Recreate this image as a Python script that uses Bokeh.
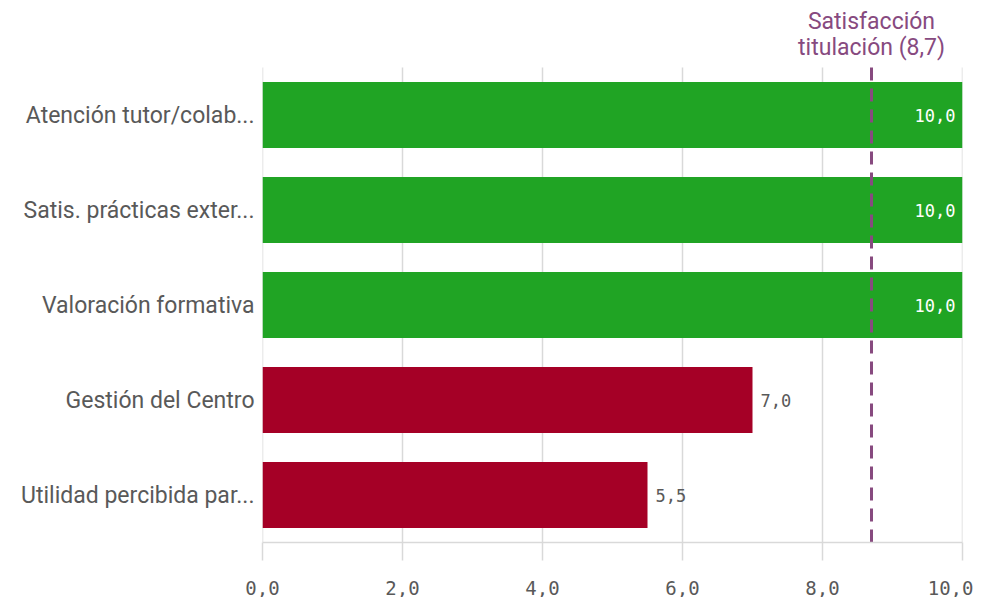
from bokeh.plotting import figure
from bokeh.models import ColumnDataSource, CustomJSTickFormatter, FixedTicker, Range1d
from bokeh.core.properties import value
from bokeh.embed import file_html
from bokeh.resources import INLINE

categories = ["Atención tutor/colab...", "Satis. prácticas exter...", "Valoración formativa",
              "Gestión del Centro", "Utilidad percibida par..."]
values = [10.0, 10.0, 10.0, 7.0, 5.5]
reference = 8.7
reference_lines = ["Satisfacción", "titulación (8,7)"]
x_ticks = [0, 2, 4, 6, 8, 10]

GREEN = "#20a424"
RED = "#a50026"
PURPLE = "#874a7f"
GRAY = "#595959"
GRID = "#d9d9d9"

n = len(categories)
band_px = 95
top_px = 62  # space above the bars for the reference annotation


def fmt(v):
    return f"{v:.1f}".replace(".", ",")


ypos = [n - 1 - i for i in range(n)]
colors = [GREEN if v >= reference else RED for v in values]
src = ColumnDataSource(dict(y=ypos, val=values, color=colors))
inside = [i for i, v in enumerate(values) if v >= 9.5]
outside = [i for i, v in enumerate(values) if v < 9.5]
src_in = ColumnDataSource(dict(y=[ypos[i] for i in inside], val=[values[i] for i in inside],
                               lab=[fmt(values[i]) for i in inside]))
src_out = ColumnDataSource(dict(y=[ypos[i] for i in outside], val=[values[i] for i in outside],
                                lab=[fmt(values[i]) for i in outside]))

p = figure(frame_width=700, frame_height=n * band_px + top_px,
           x_range=Range1d(0, 10), y_range=Range1d(-0.5, n - 0.5 + top_px / band_px),
           output_backend="svg", toolbar_location=None,
           min_border_left=262, min_border_right=11, min_border_top=5, min_border_bottom=54)

# vertical grid lines, limited to the band area
p.segment(x0=x_ticks, x1=x_ticks, y0=-0.5, y1=n - 0.5, line_color=GRID, line_width=1.5)

p.hbar(y="y", right="val", left=0, height=0.695, color="color", source=src, line_color=None)

p.text(x="val", y="y", text="lab", source=src_in, x_offset=-7, text_align="right",
       text_baseline="middle", text_color="white", text_font=value("DejaVu Sans Mono"),
       text_font_size="17px")
p.text(x="val", y="y", text="lab", source=src_out, x_offset=8, text_align="left",
       text_baseline="middle", text_color=GRAY, text_font=value("DejaVu Sans Mono"),
       text_font_size="17px")

# reference line
p.segment(x0=[reference], x1=[reference], y0=[-0.5], y1=[n - 0.5], line_color=PURPLE,
          line_width=3, line_dash="13 8")
p.text(x=[reference], y=[n - 0.5], text=[reference_lines[0]], y_offset=-46,
       text_align="center", text_baseline="middle", text_color=PURPLE,
       text_font=value("Roboto"), text_font_size="23px")
p.text(x=[reference], y=[n - 0.5], text=[reference_lines[1]], y_offset=-20,
       text_align="center", text_baseline="middle", text_color=PURPLE,
       text_font=value("Roboto"), text_font_size="23px")

p.outline_line_color = None
p.xgrid.grid_line_color = None
p.ygrid.grid_line_color = None

p.xaxis.ticker = FixedTicker(ticks=x_ticks)
p.xaxis.formatter = CustomJSTickFormatter(code="return tick.toFixed(1).replace('.', ',');")
p.xaxis.axis_line_color = GRID
p.xaxis.axis_line_width = 1.5
p.xaxis.major_tick_line_color = GRID
p.xaxis.major_tick_line_width = 1.5
p.xaxis.major_tick_out = 18
p.xaxis.major_tick_in = 0
p.xaxis.minor_tick_line_color = None
p.xaxis.major_label_standoff = 20
p.xaxis.major_label_text_font = "DejaVu Sans Mono"
p.xaxis.major_label_text_font_size = "19px"
p.xaxis.major_label_text_color = GRAY

p.yaxis.ticker = FixedTicker(ticks=ypos)
p.yaxis.major_label_overrides = {y: c for y, c in zip(ypos, categories)}
p.yaxis.axis_line_color = None
p.yaxis.major_tick_line_color = None
p.yaxis.minor_tick_line_color = None
p.yaxis.major_tick_out = 0
p.yaxis.major_tick_in = 0
p.yaxis.major_label_standoff = 8
p.yaxis.major_label_text_font = "Roboto"
p.yaxis.major_label_text_font_size = "23px"
p.yaxis.major_label_text_color = GRAY

open("out.html", "w").write(file_html(p, INLINE))
